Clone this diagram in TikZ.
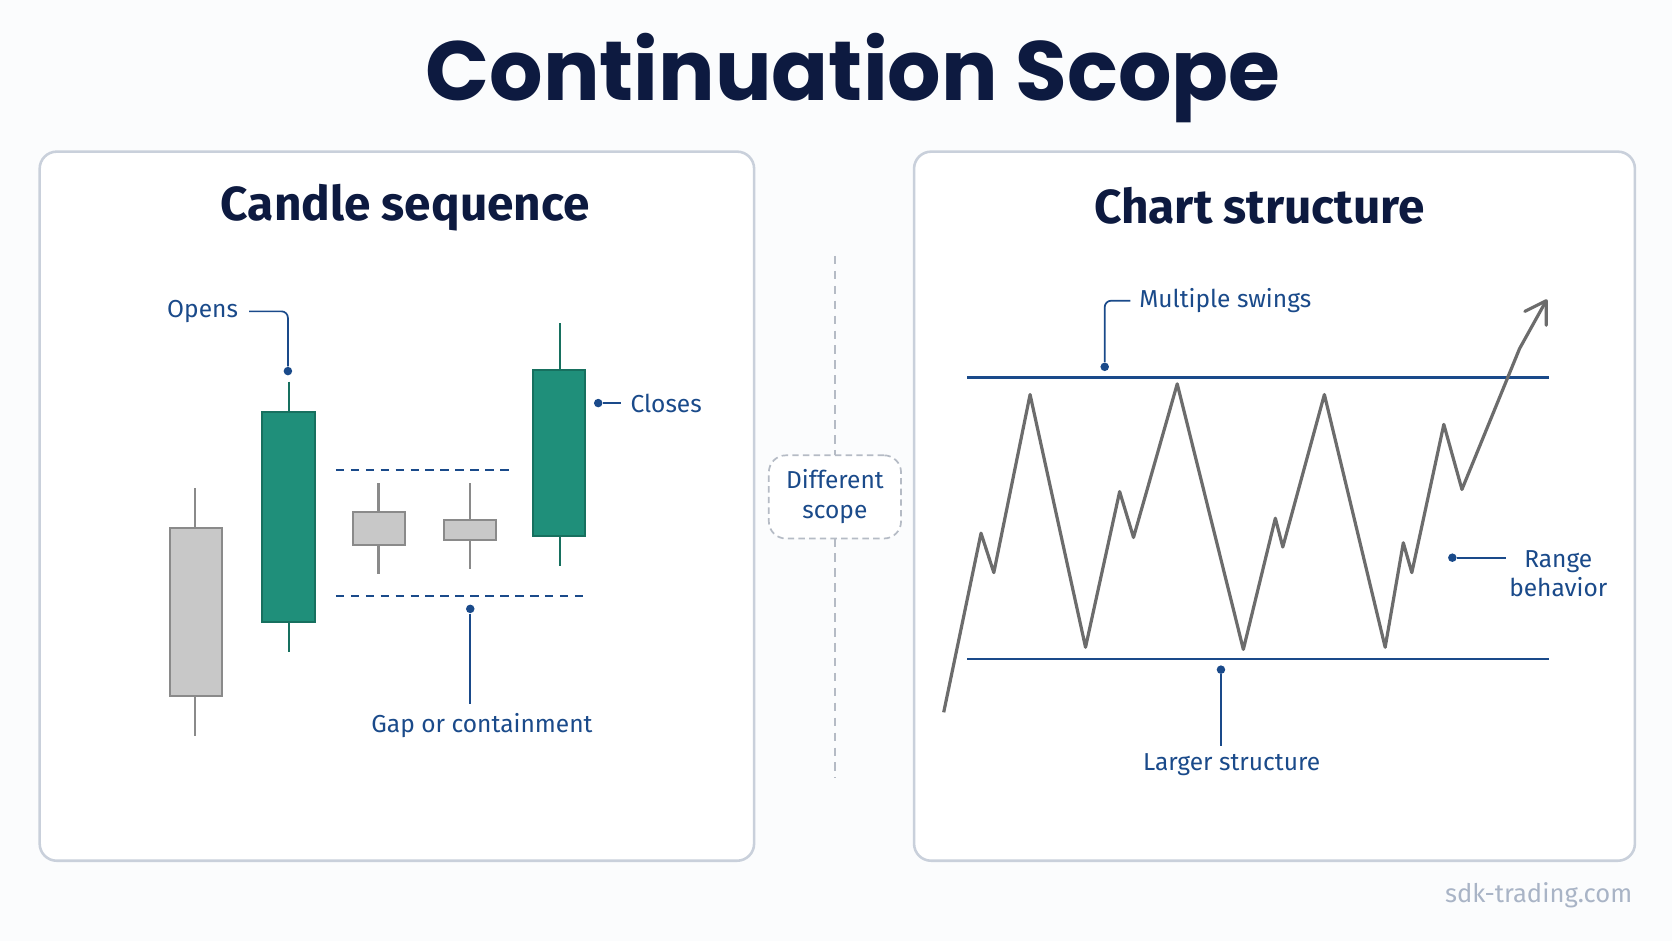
\documentclass[tikz,border=0pt]{standalone}
\usepackage{fontspec}
\setmainfont{Fira Sans}
\newfontfamily\titlefont{Poppins}[UprightFont=* Bold]
\newfontfamily\headfont{Fira Sans}[UprightFont=* Bold]
\definecolor{navy}{HTML}{0D1A40}
\definecolor{lblue}{HTML}{1A4A8A}
\definecolor{panel}{HTML}{C9D0DB}
\definecolor{grn}{HTML}{1F8F7A}
\definecolor{grnd}{HTML}{17705F}
\definecolor{cgray}{HTML}{C8C8C8}
\definecolor{cgrayd}{HTML}{8A8A8A}
\definecolor{bg}{HTML}{FBFCFD}
\definecolor{wmc}{HTML}{A9B4C6}
\begin{document}
\begin{tikzpicture}[x=0.5pt,y=-0.5pt,
  panelbox/.style={draw=panel,line width=1.2pt,rounded corners=8pt,fill=white},
  lbl/.style={text=lblue,font=\fontsize{11.5}{13.5}\selectfont,inner sep=0pt},
  lead/.style={draw=lblue,line width=0.8pt},
  dotn/.style={circle,fill=lblue,inner sep=0pt,minimum size=4pt},
  gc/.style={fill=cgray,draw=cgrayd,line width=0.9pt},
  gw/.style={draw=cgrayd,line width=1pt},
  nc/.style={fill=grn,draw=grnd,line width=0.9pt},
  nw/.style={draw=grnd,line width=1pt},
  dsh/.style={draw=lblue,line width=0.8pt,dash pattern=on 4pt off 3pt},
  band/.style={draw=lblue,line width=1.2pt}]
\fill[bg] (0,0) rectangle (1568,882);
\useasboundingbox (0,0) rectangle (1568,882);
\node[text=navy,font=\titlefont\fontsize{39.4}{45}\selectfont] (title) at (800,73) {Continuation Scope};
\node[panelbox,minimum width=335pt,minimum height=332.5pt,anchor=north west] (lp) at (36,141) {};
\node[panelbox,minimum width=338pt,minimum height=332.5pt,anchor=north west] (rp) at (856,141) {};
\node[text=navy,font=\headfont\fontsize{22.4}{26}\selectfont] (lt) at (380,195) {Candle sequence};
\node[text=navy,font=\headfont\fontsize{22.4}{26}\selectfont] (rt) at (1181,193) {Chart structure};
% candles
\draw[gw] (183,458) -- (183,690);
\draw[gc] (159,495) rectangle (208,653);
\draw[nw] (271,358) -- (271,611);
\draw[nc] (246,386) rectangle (295,583);
\draw[gw] (355,453) -- (355,538);
\draw[gc] (331,480) rectangle (380,511);
\draw[gw] (441,453) -- (441,534);
\draw[gc] (416,488) rectangle (465,506);
\draw[nw] (525,303) -- (525,531);
\draw[nc] (500,347) rectangle (549,503);
\coordinate (d1a) at (315,441); \coordinate (d1b) at (481,441);
\coordinate (d2a) at (315,559); \coordinate (d2b) at (551,559);
\draw[dsh] (d1a) -- (d1b);
\draw[dsh] (d2a) -- (d2b);
% labels left
\node[lbl] (opens) at (190,292) {Opens};
\node[dotn] (od) at (270,348) {};
\draw[lead,rounded corners=3pt] (opens.east) ++(10,0) -- (270,292) -- (od);
\node[dotn] (cd) at (561,378) {};
\node[lbl,anchor=west] (closes) at (591,378) {Closes};
\draw[lead] (cd) -- (582,378);
\node[dotn] (gd) at (441,571) {};
\node[lbl] (gap) at (452,680) {Gap or containment};
\draw[lead] (gd) -- (441,660);
% divider
\draw[draw=panel!90!black,line width=0.8pt,dash pattern=on 4pt off 3pt] (783,240) -- (783,427);
\draw[draw=panel!90!black,line width=0.8pt,dash pattern=on 4pt off 3pt] (783,505) -- (783,730);
\node[draw=panel!90!black,line width=0.8pt,dash pattern=on 3pt off 2pt,rounded corners=8pt,fill=white,minimum width=62pt,minimum height=39pt,align=center,text=lblue,font=\fontsize{11.5}{14}\selectfont] (diff) at (783,466) {Different\\scope};
% right
\draw[band] (907,354) -- (1453,354);
\draw[band] (907,618) -- (1453,618);
\draw[draw=gray!85!black,line width=1.5pt,line join=round] (885,668) -- (920,500) -- (932,537) -- (966,370) -- (1018,607) -- (1050,461) -- (1063,504) -- (1104,360) -- (1166,609) -- (1196,486) -- (1203,513) -- (1242,370) -- (1299,607) -- (1316,509) -- (1324,537) -- (1354,398) -- (1371,459) -- (1425,327) -- (1450,282);
\draw[draw=gray!85!black,line width=1.5pt,line join=round,line cap=round] (1430,292) -- (1450,282) -- (1450,305);
\node[dotn] (msd) at (1036,344) {};
\node[lbl,anchor=west] (ms) at (1068,282) {Multiple swings};
\draw[lead,rounded corners=3pt] (msd) -- (1036,282) -- (1060,282);
\node[dotn] (lsd) at (1145,628) {};
\node[lbl] (ls) at (1155,717) {Larger structure};
\draw[lead] (lsd) -- (1145,700);
\node[dotn] (rbd) at (1362,523) {};
\node[lbl,align=center,anchor=west] (rb) at (1415,538) {Range\\behavior};
\draw[lead] (rbd) -- (1412,523);
\node[text=wmc,font=\fontsize{12}{14}\selectfont] (wm) at (1443,840) {sdk-trading.com};
\end{tikzpicture}
\end{document}
